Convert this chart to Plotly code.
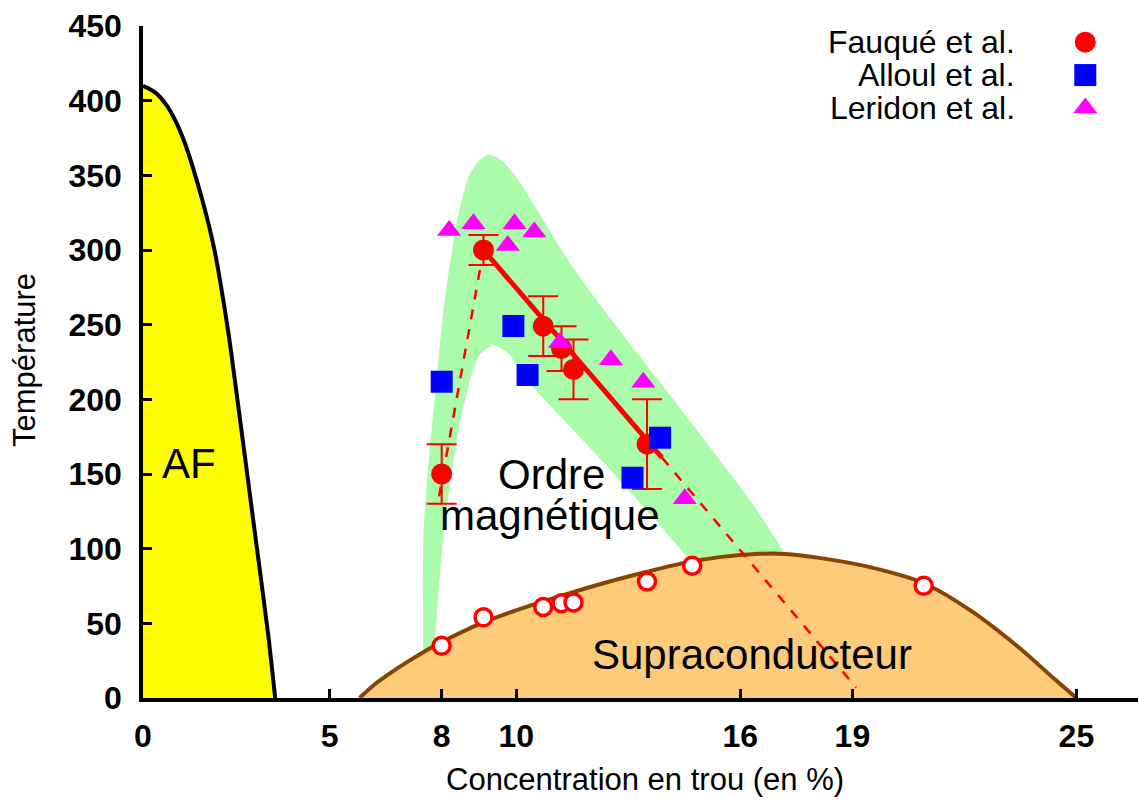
import plotly.graph_objects as go

# ---------------- data ----------------
# Fauqué et al. (magnetic order, with error bars)
fauque_x = [8.0, 9.12, 10.72, 11.21, 11.53, 13.5]
fauque_y = [150, 300, 249, 234, 220, 170]
fauque_err = [20, 10, 20, 15, 20, 30]

# Fauqué et al. superconducting Tc (open circles)
tc_x = [8.0, 9.12, 10.72, 11.21, 11.53, 13.5, 14.71, 20.91]
tc_y = [35, 54, 61, 63.5, 64, 78, 88.6, 75.2]

# Alloul et al.
alloul_x = [8.0, 9.92, 10.3, 13.11, 13.85]
alloul_y = [211.8, 249.1, 216.3, 147.5, 174.3]

# Leridon et al.
leridon_x = [8.2, 8.85, 9.95, 9.77, 10.48, 11.17, 12.53, 13.4, 14.51]
leridon_y = [313, 317.5, 317.5, 303, 312, 238, 226.5, 211.5, 133.5]

# antiferromagnetic boundary
af_x = [0, 0.3, 0.6, 0.86, 1.13, 1.4, 1.7, 1.93, 2.29, 2.47, 3.0, 3.35, 3.54]
af_y = [410, 406, 398, 387, 371, 350, 323, 298, 244, 211, 110, 43, 0]

# superconducting dome
sc_x = [5.8, 6.2, 6.7, 7.2, 7.7, 8.2, 9.0, 9.8, 10.7, 11.6, 12.5, 13.5, 14.5,
        15.5, 16.4, 17.2, 18.2, 19.5, 20.9, 22.2, 23.5, 24.4, 25.0]
sc_y = [0, 9, 18, 26, 33.5, 40, 49.5, 57, 64.5, 71.5, 78, 84.5, 90.5,
        94.5, 96.5, 96.5, 93.5, 87.5, 77, 58, 33, 13, 0]

# magnetic-order band (outer edge then inner edge)
band_outer_x = [7.51, 7.51, 7.73, 7.87, 8.0, 8.18, 8.4, 8.72, 9.0, 9.27, 9.61,
                10.05, 10.5, 11.39, 12.28, 14.2, 16.3, 17.18, 17.6]
band_outer_y = [20, 110, 180, 213, 249, 284, 318, 349, 360, 364, 360,
                347, 329, 293, 262, 200, 131, 97, 78]
band_inner_x = [14.9, 14.56, 12.28, 10.14, 9.79, 9.36, 8.98, 8.76, 8.45, 8.05, 7.82, 7.78]
band_inner_y = [80, 94.6, 159.4, 217, 230.8, 236.4, 228.5, 213, 180, 110, 37, 20]

# linear trend of Fauqué data
trend_solid_x = [9.12, 13.9]
trend_solid_y = [300, 161]
trend_dash_x = [13.9, 19.1]
trend_dash_y = [161, 7]
rise_dash_x = [7.93, 9.12]
rise_dash_y = [135, 300]

x_tickvals = [0, 5, 8, 10, 16, 19, 25]
y_tickvals = [0, 50, 100, 150, 200, 250, 300, 350, 400, 450]

legend_names = ["Fauqué et al.", "Alloul et al.", "Leridon et al."]

# ---------------- figure ----------------
FONT = "Liberation Sans, Arial, Helvetica, sans-serif"
RED = "#ff0000"
BLUE = "#0000ff"
MAGENTA = "#ff00ff"

fig = go.Figure()

# green band
fig.add_trace(go.Scatter(
    x=band_outer_x + band_inner_x, y=band_outer_y + band_inner_y,
    mode="lines", fill="toself", fillcolor="#aafbaa",
    line=dict(width=0, color="#aafbaa", shape="spline", smoothing=0.6),
    hoverinfo="skip", showlegend=False))

# AF region
fig.add_trace(go.Scatter(
    x=af_x, y=af_y, mode="lines", fill="tozeroy", fillcolor="#ffff00",
    line=dict(color="black", width=4, shape="spline", smoothing=0.8),
    showlegend=False))

# SC dome
fig.add_trace(go.Scatter(
    x=sc_x, y=sc_y, mode="lines", fill="tozeroy", fillcolor="#fdcb7a",
    line=dict(color="#884400", width=4, shape="spline", smoothing=0.8),
    showlegend=False))

# trend lines
fig.add_trace(go.Scatter(x=rise_dash_x, y=rise_dash_y, mode="lines",
                         line=dict(color=RED, width=2.5, dash="10px,10px"),
                         showlegend=False))
fig.add_trace(go.Scatter(x=trend_dash_x, y=trend_dash_y, mode="lines",
                         line=dict(color=RED, width=2.5, dash="10px,10px"),
                         showlegend=False))
fig.add_trace(go.Scatter(x=trend_solid_x, y=trend_solid_y, mode="lines",
                         line=dict(color=RED, width=5), showlegend=False))

# open Tc circles
fig.add_trace(go.Scatter(x=tc_x, y=tc_y, mode="markers",
                         marker=dict(symbol="circle", size=17, color="white",
                                     line=dict(color=RED, width=3.5)),
                         showlegend=False))

# Fauqué
fig.add_trace(go.Scatter(x=fauque_x, y=fauque_y, mode="markers",
                         marker=dict(symbol="circle", size=21, color=RED),
                         error_y=dict(type="data", array=fauque_err, color=RED,
                                      thickness=2, width=15),
                         name=legend_names[0], showlegend=False))
# Alloul
fig.add_trace(go.Scatter(x=alloul_x, y=alloul_y, mode="markers",
                         marker=dict(symbol="square", size=22, color=BLUE),
                         name=legend_names[1], showlegend=False))
# Leridon
fig.add_trace(go.Scatter(x=leridon_x, y=leridon_y, mode="markers",
                         marker=dict(symbol="triangle-up", size=21, color=MAGENTA),
                         name=legend_names[2], showlegend=False))

# legend keys on an overlay axis (paper-like 0..1 coordinates)
key_x = [0.947, 0.947, 0.947]
key_y = [0.976, 0.927, 0.878]
key_symbols = ["circle", "square", "triangle-up"]
key_sizes = [21, 22, 21]
key_colors = [RED, BLUE, MAGENTA]
for i in range(3):
    fig.add_trace(go.Scatter(x=[key_x[i]], y=[key_y[i]], mode="markers",
                             xaxis="x2", yaxis="y2",
                             marker=dict(symbol=key_symbols[i], size=key_sizes[i],
                                         color=key_colors[i]),
                             showlegend=False, hoverinfo="skip"))
    fig.add_annotation(x=0.8784, y=key_y[i], xref="paper", yref="paper",
                       text=legend_names[i], showarrow=False, xanchor="right",
                       yanchor="middle", font=dict(size=32, color="black", family=FONT))

# region labels
big = dict(size=42, color="black", family=FONT)
fig.add_annotation(x=0.46, y=157, text="AF", showarrow=False, xanchor="left",
                   yanchor="middle", font=big)
fig.add_annotation(x=10.94, y=150, text="Ordre", showarrow=False, font=big)
fig.add_annotation(x=10.91, y=122.5, text="magnétique", showarrow=False, font=big)
fig.add_annotation(x=16.32, y=29, text="Supraconducteur", showarrow=False, font=big)

# axis titles
fig.add_annotation(x=0.5047, y=-0.122, xref="paper", yref="paper",
                   xanchor="center", yanchor="middle",
                   text="Concentration en trou (en %)", showarrow=False,
                   font=dict(size=31, color="black", family=FONT))
fig.add_annotation(x=-0.1186, y=0.503, xref="paper", yref="paper",
                   xanchor="center", yanchor="middle",
                   text="Température", textangle=-90, showarrow=False,
                   font=dict(size=31, color="black", family=FONT))

tickfont = dict(size=32, color="black", family=FONT, weight="bold")
fig.update_layout(
    width=1140, height=803,
    margin=dict(l=143, r=2, t=26, b=105, autoexpand=False),
    paper_bgcolor="white", plot_bgcolor="white",
    font=dict(family=FONT, color="black"),
    showlegend=False,
    xaxis=dict(range=[0, 26.65], tickvals=x_tickvals, ticktext=[str(v) for v in x_tickvals],
               ticks="inside", ticklen=9, tickwidth=2.5, tickcolor="black",
               showline=True, linecolor="black", linewidth=3.5,
               showgrid=False, zeroline=False, tickfont=tickfont,
               ticklabelstandoff=7, automargin=False),
    yaxis=dict(range=[0, 450], tickvals=y_tickvals,
               ticks="inside", ticklen=9, tickwidth=2.5, tickcolor="black",
               showline=True, linecolor="black", linewidth=3.5,
               showgrid=False, zeroline=False, tickfont=tickfont,
               ticklabelstandoff=11, automargin=False),
    xaxis2=dict(range=[0, 1], overlaying="x", visible=False, domain=[0, 1]),
    yaxis2=dict(range=[0, 1], overlaying="y", visible=False, domain=[0, 1]),
)

fig.write_html("out.html", config={"displayModeBar": False},
               post_script="document.body.style.margin='0';document.body.style.overflow='hidden';")
